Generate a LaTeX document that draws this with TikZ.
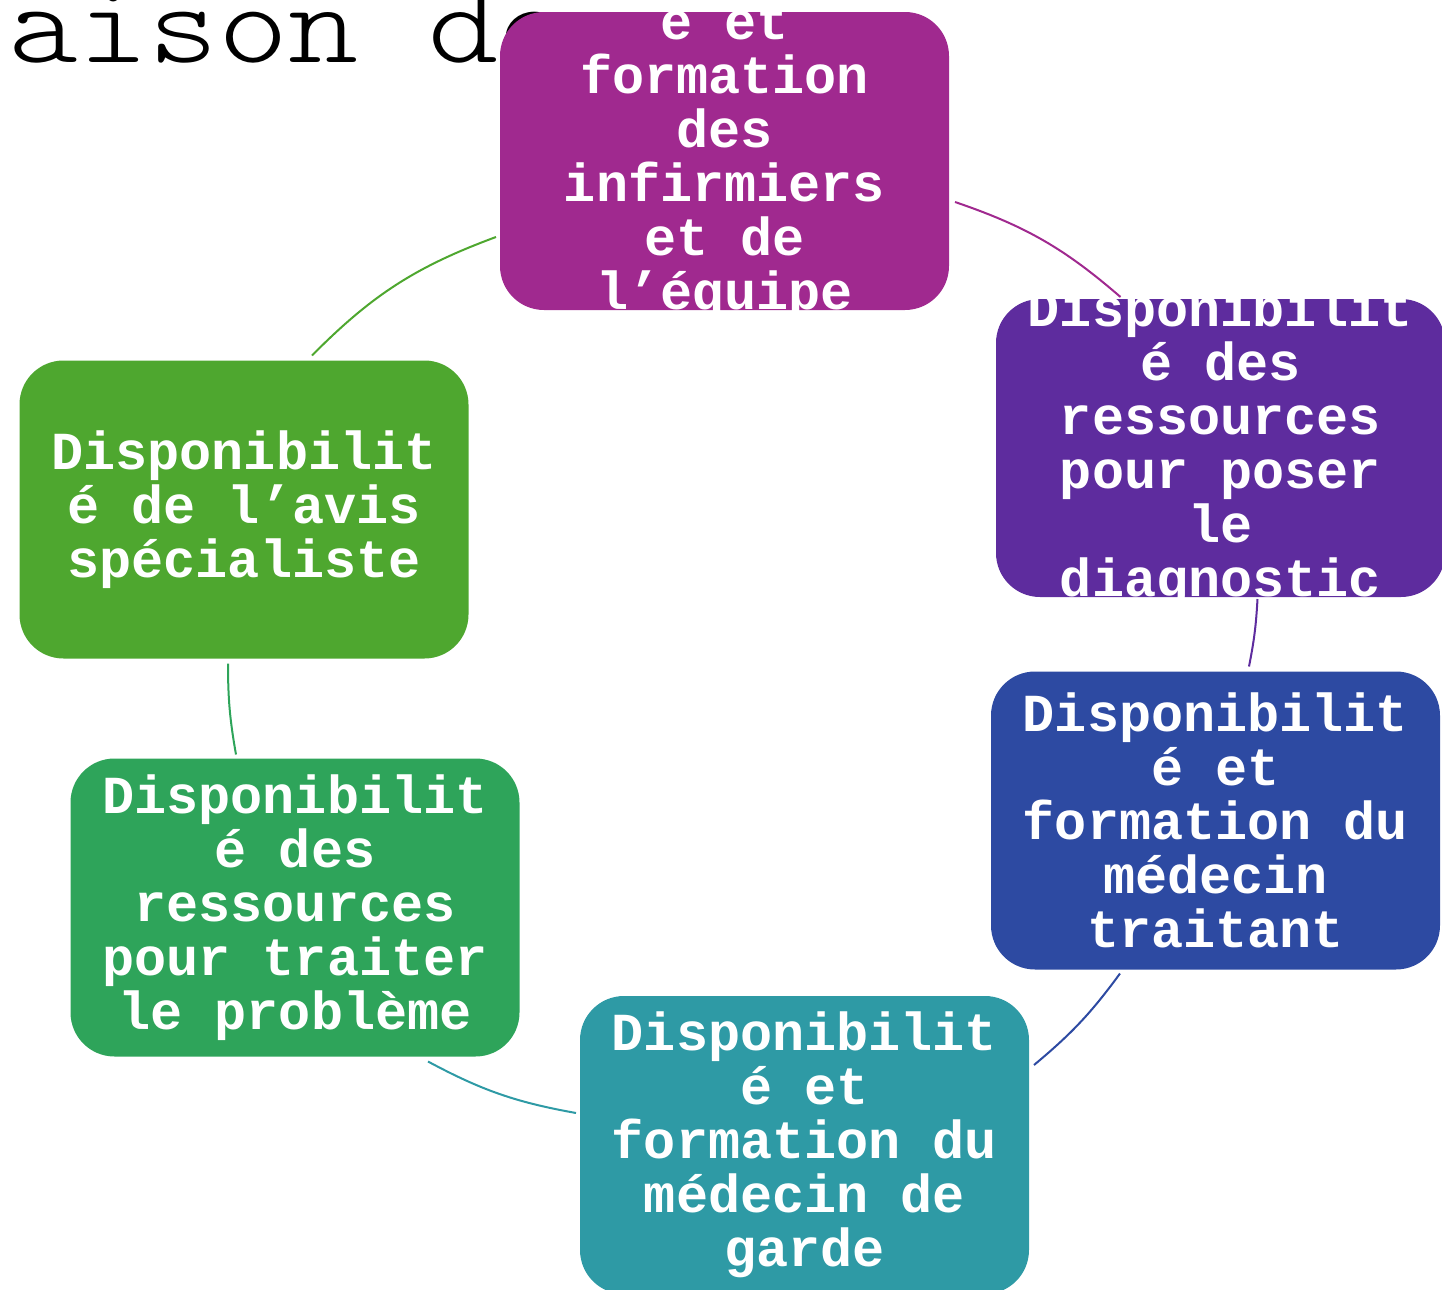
\documentclass[tikz,border=0pt]{standalone}
\usepackage{fontspec}
\newfontfamily\monof{Liberation Mono}
\newfontfamily\titlef{lmmonolt10-regular.otf}[FakeStretch=1.15]
\usetikzlibrary{calc}
\definecolor{cMag}{HTML}{A0298F}
\definecolor{cPur}{HTML}{5E2C9E}
\definecolor{cBlu}{HTML}{2D4AA2}
\definecolor{cTea}{HTML}{2E9AA5}
\definecolor{cGrn}{HTML}{2EA45A}
\definecolor{cLim}{HTML}{4EA72F}
\begin{document}
\begin{tikzpicture}[x=0.5pt,y=-0.5pt,
  box/.style={rounded corners=22pt, minimum width=224.5pt, minimum height=149pt, inner sep=0pt, outer sep=0pt},
  lbl/.style={text=white, align=center, inner sep=0pt, font=\monof\bfseries\fontsize{26.75pt}{27pt}\selectfont},
  link/.style={line width=1pt}]
\useasboundingbox (0,0) rectangle (1442,1290);
\node[anchor=base west, inner sep=0pt, font=\titlef\fontsize{58pt}{60pt}\selectfont] (title) at (8,62) {aison de};
% boxes
\node[box, fill=cMag] (n1) at (724.5,161) {};
\node[box, fill=cPur] (n2) at (1220.5,448) {};
\node[box, fill=cBlu] (n3) at (1215.5,820.5) {};
\node[box, fill=cTea] (n4) at (804.5,1145) {};
\node[box, fill=cGrn] (n5) at (295,907.5) {};
\node[box, fill=cLim] (n6) at (244,509.5) {};
% texts
\begin{scope}
\clip (n1.south west) rectangle (n1.north east);
\node[lbl] (t1) at ([yshift=13.5pt]n1.center) {Disponibilit\\é et\\formation\\des\\infirmiers\\et de\\l’équipe};
\end{scope}
\begin{scope}
\clip (n2.south west) rectangle (n2.north east);
\node[lbl] (t2) at (n2.center) {Disponibilit\\é des\\ressources\\pour poser\\le\\diagnostic};
\end{scope}
\begin{scope}
\clip (n3.south west) rectangle (n3.north east);
\node[lbl] (t3) at (n3.center) {Disponibilit\\é et\\formation du\\médecin\\traitant};
\end{scope}
\begin{scope}
\clip (n4.south west) rectangle (n4.north east);
\node[lbl] (t4) at (n4.center) {Disponibilit\\é et\\formation du\\médecin de\\garde};
\end{scope}
\begin{scope}
\clip (n5.south west) rectangle (n5.north east);
\node[lbl] (t5) at (n5.center) {Disponibilit\\é des\\ressources\\pour traiter\\le problème};
\end{scope}
\begin{scope}
\clip (n6.south west) rectangle (n6.north east);
\node[lbl] (t6) at (n6.center) {Disponibilit\\é de l’avis\\spécialiste};
\end{scope}
% connectors
\draw[link, draw=cMag] ($(n1.east)+(6,41)$) to[bend left=11] ($(n2.north)+(-100,-2)$);
\draw[link, draw=cPur] ($(n2.south)+(37,2)$) to[bend left=4] ($(n3.north)+(33.5,-5)$);
\draw[link, draw=cBlu] ($(n3.south)+(-95.5,4)$) to[bend left=7] ($(n4.east)+(5,-80)$);
\draw[link, draw=cTea] ($(n4.west)+(-4,-32)$) to[bend left=9] ($(n5.south)+(133,5)$);
\draw[link, draw=cGrn] ($(n5.north)+(-59,-4)$) to[bend left=5] ($(n6.south)+(-16,5)$);
\draw[link, draw=cLim] ($(n6.north)+(68,-5)$) to[bend left=12.5] ($(n1.west)+(-4,76)$);
\end{tikzpicture}
\end{document}
